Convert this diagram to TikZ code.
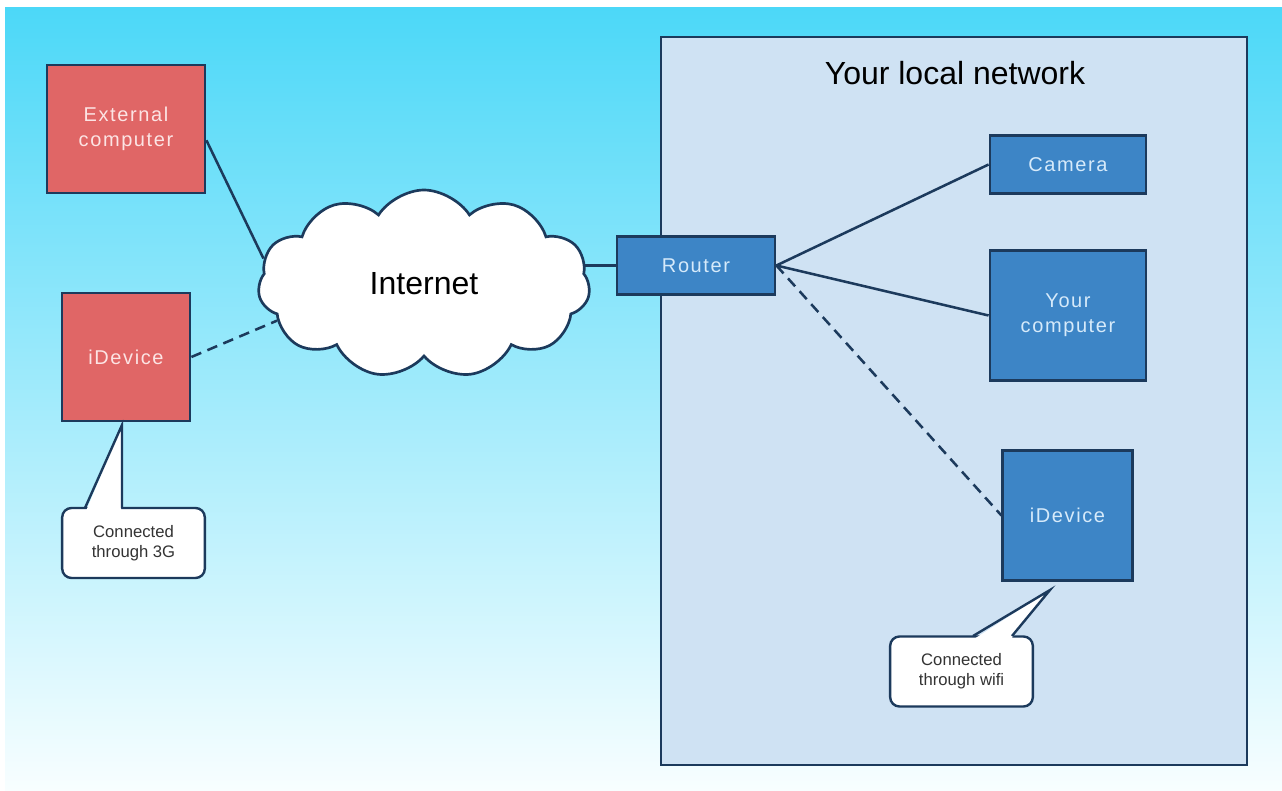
\documentclass[tikz,border=0pt]{standalone}
\usepackage{fontspec}
\setmainfont{Liberation Sans}
\usepackage{tikz}
\usetikzlibrary{shapes.symbols}

\definecolor{skytop}{RGB}{76,216,248}
\definecolor{skybot}{RGB}{248,254,255}
\definecolor{lanfill}{RGB}{207,226,243}
\definecolor{navy}{RGB}{28,58,92}
\definecolor{hostblue}{RGB}{61,133,198}
\definecolor{hostred}{RGB}{224,102,102}
\definecolor{bluetxt}{RGB}{214,234,250}
\definecolor{redtxt}{RGB}{252,228,228}

\pgfdeclarelayer{back}
\pgfdeclarelayer{wires}
\pgfsetlayers{back,wires,main}

\tikzset{
  host/.style={draw=navy, line width=2.1pt, inner sep=0pt, align=center,
    font=\fontsize{15}{19}\selectfont\addfontfeature{LetterSpace=8}},
  redhost/.style={host, fill=hostred, text=redtxt},
  bluehost/.style={host, fill=hostblue, text=bluetxt},
  wire/.style={navy, line width=1.9pt},
  wireless/.style={wire, dash pattern=on 8pt off 5pt},
  note/.style={draw=navy, line width=1.8pt, fill=white, rounded corners=7pt,
    minimum width=107pt, minimum height=52.5pt, align=center, text=black!80,
    font=\fontsize{12.5}{15}\selectfont},
}

\begin{document}
\begin{tikzpicture}[x=0.75pt,y=0.75pt,yscale=-1,xscale=1]
\useasboundingbox (0,0) rectangle (1282,791);

\begin{pgfonlayer}{back}
%sky
\shade[top color=skytop, bottom color=skybot] (5,8) rectangle (1282,791);
%local network area
\draw[navy, line width=2.2pt, fill=lanfill] (661,37) rectangle (1247,765);
\end{pgfonlayer}

% Text Node
\node[font=\fontsize{24}{28}\selectfont] (lan) at (955,73) {Your local network};

%outside
\node[redhost, minimum width=118.5pt, minimum height=96pt] (ext) at (126,129) {External\\computer};
\node[redhost, minimum width=96pt, minimum height=96pt] (idevA) at (126,357) {iDevice};
\node[cloud, cloud puffs=11, cloud puff arc=115, draw=navy, line width=2pt, fill=white,
  minimum width=249pt, minimum height=141pt, font=\fontsize{24}{28}\selectfont] (cloud) at (424,284) {Internet};

%inside
\node[bluehost, minimum width=118.5pt, minimum height=44pt] (router) at (696,265.5) {Router};
\node[bluehost, minimum width=117pt, minimum height=44pt] (camera) at (1068,164.5) {Camera};
\node[bluehost, minimum width=117pt, minimum height=97pt] (yourpc) at (1068,315.5) {Your\\computer};
\node[bluehost, minimum width=97pt, minimum height=97pt] (idevB) at (1067.5,515.5) {iDevice};

\begin{pgfonlayer}{wires}
\draw[wire] (ext.-8) -- (cloud.171);
\draw[wireless] (idevA.east) -- (cloud.194);
\draw[wire] (router.west) -- (router.west -| cloud.center);
\draw[wire] (router.east) -- (camera.west);
\draw[wire] (router.east) -- (yourpc.west);
\draw[wireless] (router.east) -- (idevB.west);
\end{pgfonlayer}

%callouts
\node[note] (note3g) at (133.5,543) {Connected\\through 3G};
\coordinate (tip3g) at (122,425);
\fill[white] (86,511) -- (tip3g) -- (121,511) -- cycle;
\draw[navy, line width=1.8pt, line join=miter] (85,508) -- (tip3g) -- (122,508);

\node[note] (notewifi) at (961.5,671.5) {Connected\\through wifi};
\coordinate (tipwifi) at (1050,590);
\fill[white] (974,639) -- (tipwifi) -- (1011,639) -- cycle;
\draw[navy, line width=1.8pt, line join=miter] (973,636) -- (tipwifi) -- (1012,636);

\end{tikzpicture}
\end{document}
